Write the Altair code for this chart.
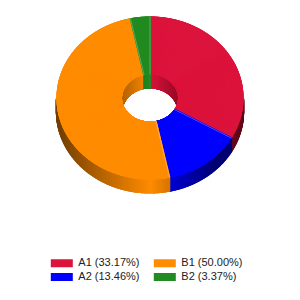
import altair as alt
import pandas as pd

# ---- data ----
names = ["A1", "A2", "B1", "B2"]
values = [33.17, 13.46, 50.00, 3.37]
colors = ["#DC143C", "#0000FF", "#FF8C00", "#228B22"]

# ---- layout (pixels) ----
CX, CY = 150, 98
RXO, RYO = 93.5, 81.5
RXI, RYI = 28, 23.5
DEPTH = 14
STEP = 0.25

df = pd.DataFrame({"name": names, "value": values, "order": list(range(len(names)))})
df["label"] = [f"{n} ({v:.2f}%)" for n, v in zip(names, values)]
df["r"] = [int(c[1:3], 16) for c in colors]
df["g"] = [int(c[3:5], 16) for c in colors]
df["b"] = [int(c[5:7], 16) for c in colors]
domain = list(df["label"])

xs = alt.Scale(domain=[0, 300], nice=False, zero=False)
ys = alt.Scale(domain=[0, 300], nice=False, zero=False, reverse=True)
cscale = alt.Scale(domain=domain, range=colors)

legend = alt.Legend(
    title=None, orient="none", legendX=56.3, legendY=257.5, columns=2,
    symbolType="M-2.2,-0.8H2.2V0.8H-2.2Z", symbolSize=100, symbolStrokeWidth=0,
    symbolOpacity=1, labelFont="Liberation Sans", labelFontSize=11,
    labelColor="#222222", labelOffset=11, columnPadding=13, rowPadding=2,
    padding=0,
)

slices = (
    alt.Chart(df)
    .transform_joinaggregate(total="sum(value)")
    .transform_window(cum="sum(value)", sort=[alt.SortField("order")], frame=[None, 0])
    .transform_calculate(
        a0="(datum.cum - datum.value) / datum.total * 360",
        a1="datum.cum / datum.total * 360",
    )
)

def shaded(k):
    return (
        f"'rgb(' + round(datum.r * ({k})) + ',' + round(datum.g * ({k})) + ',' "
        f"+ round(datum.b * ({k})) + ')'"
    )

bright_outer = (
    f"(datum.xo < {CX} ? 1 - ({CX} - datum.xo) * 0.0059 "
    f": max(0.45, 1 - (datum.xo - {CX}) * 0.0085))"
)
bright_inner = "(1 - 0.3 * abs(datum.s))"

pts = (
    slices.transform_calculate(angs=f"sequence(datum.a0, datum.a1 + {STEP / 2}, {STEP})")
    .transform_flatten(["angs"], as_=["ang"])
    .transform_calculate(
        s="sin(datum.ang * PI / 180)",
        c="cos(datum.ang * PI / 180)",
    )
    .transform_calculate(
        xo=f"{CX} + {RXO} * datum.s",
        yo=f"{CY} - {RYO} * datum.c",
        xi=f"{CX} + {RXI} * datum.s",
        yi=f"{CY} - {RYI} * datum.c",
    )
    .transform_calculate(
        yo2=f"datum.yo + {DEPTH}",
        yi2=f"datum.yi + {DEPTH}",
    )
    .transform_calculate(
        side_col=shaded(bright_outer),
        wall_col=shaded(bright_inner),
    )
)

# outer side (front half)
side = pts.transform_filter("datum.c < 0").mark_rule(strokeWidth=1.3).encode(
    x=alt.X("xo:Q", scale=xs, axis=None),
    y=alt.Y("yo:Q", scale=ys, axis=None),
    y2="yo2:Q",
    color=alt.Color("side_col:N", scale=None),
)

# inner wall (back half)
wall = pts.transform_filter("datum.c > 0").mark_rule(strokeWidth=1.3).encode(
    x=alt.X("xi:Q", scale=xs, axis=None),
    y=alt.Y("yi:Q", scale=ys, axis=None),
    y2="yi2:Q",
    color=alt.Color("wall_col:N", scale=None),
)

# top face
top = pts.mark_rule(strokeWidth=1.6).encode(
    x=alt.X("xi:Q", scale=xs, axis=None),
    x2="xo:Q",
    y=alt.Y("yi:Q", scale=ys, axis=None),
    y2="yo:Q",
    color=alt.Color("label:N", scale=cscale, legend=None),
)

# light slice boundaries
edges = (
    slices.transform_calculate(
        s="sin(datum.a0 * PI / 180)", c="cos(datum.a0 * PI / 180)"
    )
    .transform_calculate(
        xo=f"{CX} + {RXO} * datum.s",
        yo=f"{CY} - {RYO} * datum.c",
        xi=f"{CX} + {RXI} * datum.s",
        yi=f"{CY} - {RYI} * datum.c",
    )
    .mark_rule(strokeWidth=0.8, color="white", opacity=0.35)
    .encode(
        x=alt.X("xi:Q", scale=xs, axis=None),
        x2="xo:Q",
        y=alt.Y("yi:Q", scale=ys, axis=None),
        y2="yo:Q",
    )
)

# invisible layer carrying the filled legend
legend_layer = slices.mark_point(filled=True, size=0, opacity=0).encode(
    x=alt.value(CX),
    y=alt.value(CY),
    color=alt.Color("label:N", scale=cscale, legend=legend),
)

chart = (
    alt.layer(side, wall, top, edges, legend_layer)
    .resolve_scale(color="independent")
    .properties(width=300, height=300, padding=0, autosize="none")
    .configure_view(stroke=None)
)

chart.save("out.html", embed_options={"renderer": "svg", "actions": False})
